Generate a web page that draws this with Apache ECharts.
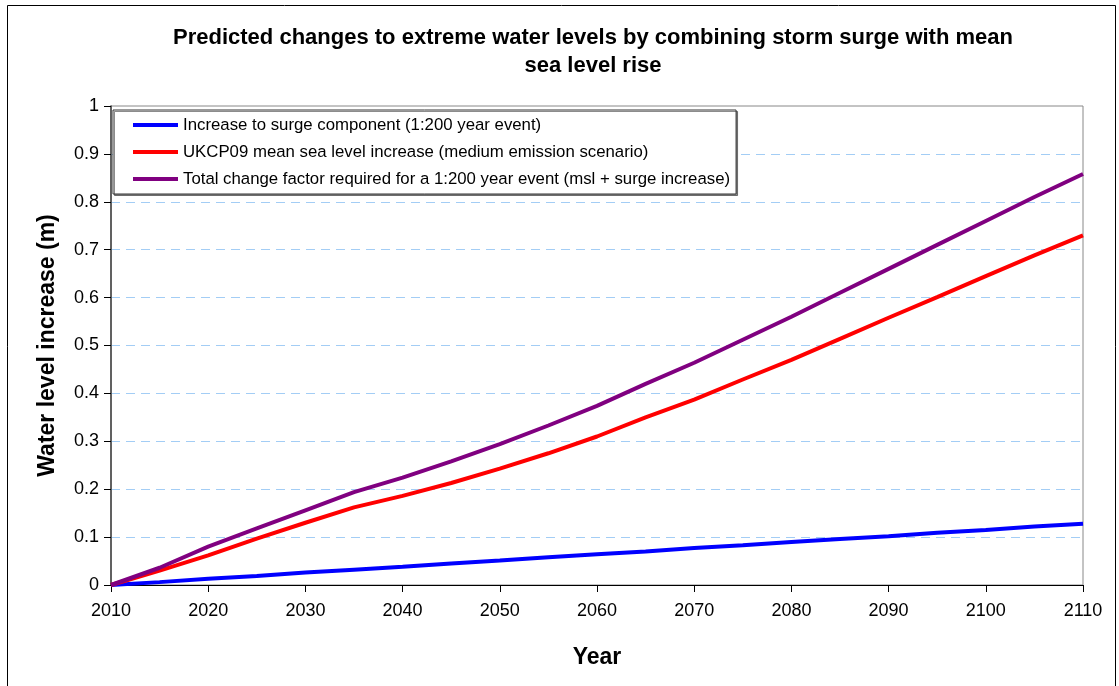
<!DOCTYPE html>
<html>
<head>
<meta charset="utf-8">
<title>Extreme water levels</title>
<script src="https://cdn.jsdelivr.net/npm/echarts@6/dist/echarts.min.js"></script>
<style>
  html, body { margin: 0; padding: 0; background: #ffffff; }
  #chart { width: 1119px; height: 686px; }
</style>
</head>
<body>
<div id="chart"></div>
<script>
// Years sampled along the horizontal axis
const years = [2010, 2015, 2020, 2025, 2030, 2035, 2040, 2045, 2050, 2055, 2060,
               2065, 2070, 2075, 2080, 2085, 2090, 2095, 2100, 2105, 2110];

// Increase to surge component (1:200 year event), metres
const surgeIncrease = [0, 0.006, 0.013, 0.019, 0.026, 0.032, 0.038, 0.045, 0.051, 0.058, 0.064,
                       0.070, 0.077, 0.083, 0.090, 0.096, 0.102, 0.109, 0.115, 0.122, 0.128];

// UKCP09 mean sea level increase (medium emission scenario), metres
const mslIncrease = [0, 0.030, 0.062, 0.097, 0.130, 0.162, 0.186, 0.213, 0.243, 0.275, 0.310,
                     0.350, 0.387, 0.429, 0.470, 0.514, 0.558, 0.601, 0.645, 0.688, 0.730];

// Total change factor for a 1:200 year event (msl + surge increase), metres
const totalChange = [0, 0.036, 0.080, 0.118, 0.156, 0.194, 0.224, 0.258, 0.294, 0.333, 0.374,
                     0.420, 0.464, 0.512, 0.560, 0.610, 0.660, 0.710, 0.760, 0.810, 0.858];

const seriesNames = [
  'Increase to surge component (1:200 year event)',
  'UKCP09 mean sea level increase (medium emission scenario)',
  'Total change factor required for a 1:200 year event (msl + surge increase)'
];
const seriesColors = ['#0000ff', '#ff0000', '#800080'];

const titleText = 'Predicted changes to extreme water levels by combining storm surge with mean\nsea level rise';

const pairs = vals => years.map((y, i) => [y, vals[i]]);

const chart = echarts.init(document.getElementById('chart'), null, { renderer: 'canvas' });

const FONT = '"Liberation Sans", Arial, sans-serif';

chart.setOption({
  animation: false,
  backgroundColor: '#ffffff',
  textStyle: { fontFamily: FONT },
  title: {
    text: titleText,
    left: 588,
    textAlign: 'center',
    top: 19,
    textStyle: {
      fontFamily: FONT,
      fontSize: 22,
      fontWeight: 'bold',
      color: '#000000',
      lineHeight: 28
    }
  },
  graphic: [
    {
      type: 'rect',
      silent: true,
      z: -10,
      shape: { x: 7.5, y: 5.5, width: 1108, height: 700 },
      style: { fill: null, stroke: '#000000', lineWidth: 1 }
    }
  ],
  legend: {
    orient: 'vertical',
    left: 113,
    top: 110,
    icon: 'rect',
    itemWidth: 45,
    itemHeight: 4,
    itemGap: 9,
    padding: [6, 6, 6, 20],
    borderColor: '#333333',
    borderWidth: 1,
    backgroundColor: '#ffffff',
    shadowColor: 'rgba(0,0,0,0.45)',
    shadowOffsetX: 1.5,
    shadowOffsetY: 1.5,
    shadowBlur: 0,
    textStyle: { fontFamily: FONT, fontSize: 16.8, color: '#000000', lineHeight: 18 },
    data: seriesNames
  },
  grid: {
    left: 111,
    right: 36,
    top: 106,
    bottom: 101,
    show: true,
    borderColor: '#888888',
    borderWidth: 1,
    backgroundColor: '#ffffff',
    containLabel: false
  },
  xAxis: {
    type: 'value',
    min: 2010,
    max: 2110,
    interval: 10,
    name: 'Year',
    nameLocation: 'middle',
    nameGap: 61,
    nameTextStyle: { fontFamily: FONT, fontSize: 23, fontWeight: 'bold', color: '#000000' },
    axisLine: { show: true, onZero: false, lineStyle: { color: '#000000', width: 1 } },
    axisTick: { show: true, inside: false, length: 7, lineStyle: { color: '#000000' } },
    axisLabel: {
      fontFamily: FONT, fontSize: 18, color: '#000000', margin: 17,
      formatter: v => String(v)
    },
    splitLine: { show: false }
  },
  yAxis: {
    type: 'value',
    min: 0,
    max: 1,
    interval: 0.1,
    name: 'Water level increase (m)',
    nameLocation: 'middle',
    nameGap: 52,
    nameRotate: 90,
    nameTextStyle: { fontFamily: FONT, fontSize: 23, fontWeight: 'bold', color: '#000000' },
    axisLine: { show: true, lineStyle: { color: '#404040', width: 1.5 } },
    axisTick: { show: true, inside: false, length: 7, lineStyle: { color: '#000000' } },
    axisLabel: { fontFamily: FONT, fontSize: 18, color: '#000000', margin: 12 },
    splitLine: {
      show: true,
      showMinLine: false,
      showMaxLine: false,
      lineStyle: { color: '#a3cdf5', width: 1, type: [9, 6] }
    }
  },
  series: [surgeIncrease, mslIncrease, totalChange].map((vals, i) => ({
    name: seriesNames[i],
    type: 'line',
    data: pairs(vals),
    showSymbol: false,
    symbol: 'none',
    smooth: false,
    color: seriesColors[i],
    lineStyle: { color: seriesColors[i], width: 4 },
    z: 3 + i
  }))
});
</script>
</body>
</html>
